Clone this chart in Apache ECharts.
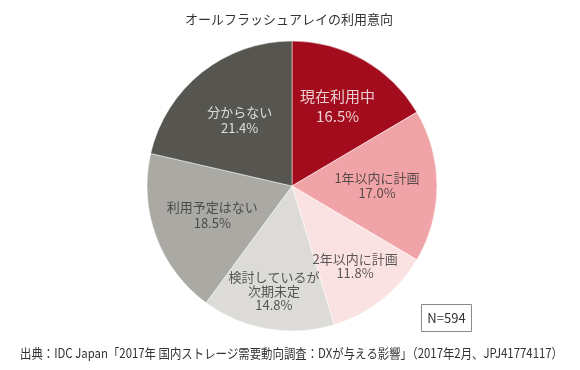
<!DOCTYPE html>
<html><head><meta charset="utf-8">
<script src="https://cdn.jsdelivr.net/npm/echarts@6/dist/echarts.min.js"></script>
<style>html,body{margin:0;padding:0;background:#fff}#c{width:580px;height:370px}</style>
</head><body><div id="c"></div>
<script>
const categories = ['現在利用中', '1年以内に計画', '2年以内に計画', '検討しているが\n次期未定', '利用予定はない', '分からない'];
const values = [16.5, 17.0, 11.8, 14.8, 18.5, 21.4];
const sliceColors = ['#a20c1d', '#f1a4a7', '#fbe2e2', '#dcdbd7', '#aba9a3', '#56554f'];
const labelColors = ['#ffffff', '#333333', '#333333', '#333333', '#333333', '#ffffff'];
// label placement (distance from pie centre, px) and text size per slice
const labelRadius = [92, 85, 102, 107, 85, 84];
const labelSize = [15, 13, 13, 13, 13, 13];
const labelLineHeight = [20, 15, 14, 14, 16, 16];
const titleText = 'オールフラッシュアレイの利用意向';
const sampleNote = 'N=594';
const sourceText = '出典：IDC Japan「2017年 国内ストレージ需要動向調査：DXが与える影響」（2017年2月、JPJ41774117）';

const FONT = '"Noto Sans CJK JP", "Noto Sans", sans-serif';
const CX = 292, CY = 186, R = 145;

// fit text lines to the widths used in the reference
const ctx = document.createElement('canvas').getContext('2d');
ctx.font = '13px ' + FONT;
const sourceScale = Math.min(1, 543 / ctx.measureText(sourceText).width);
const titleScale = Math.min(1, 212 / ctx.measureText(titleText).width);

// label anchors: middle of each slice on a polar angle axis (0..100 %)
const total = values.reduce((a, b) => a + b, 0);
let cum = 0;
const labelPoints = values.map((v, i) => {
  const mid = (cum + v / 2) / total * 100;
  cum += v;
  return {
    name: categories[i], value: [labelRadius[i], mid], pct: v,
    label: {color: labelColors[i], fontSize: labelSize[i], lineHeight: labelLineHeight[i]}
  };
});

const chart = echarts.init(document.getElementById('c'), null, {renderer: 'canvas'});
chart.setOption({
  animation: false,
  backgroundColor: '#fff',
  textStyle: {fontFamily: FONT},
  polar: {center: [CX, CY], radius: R},
  angleAxis: {type: 'value', min: 0, max: 100, startAngle: 90, clockwise: true, show: false},
  radiusAxis: {type: 'value', min: 0, max: R, show: false},
  series: [
    {
      type: 'pie', center: [CX, CY], radius: R, startAngle: 90, clockwise: true,
      silent: true, label: {show: false}, labelLine: {show: false},
      itemStyle: {borderColor: '#ffffff', borderWidth: 0.5},
      data: categories.map((n, i) => ({name: n, value: values[i], itemStyle: {color: sliceColors[i]}}))
    },
    {
      type: 'scatter', coordinateSystem: 'polar', silent: true, z: 5,
      symbol: 'circle', symbolSize: 1, itemStyle: {color: 'rgba(0,0,0,0)'},
      label: {
        show: true, position: 'inside', fontFamily: FONT,
        align: 'center', verticalAlign: 'middle',
        formatter: p => p.name + '\n' + p.data.pct.toFixed(1) + '%'
      },
      data: labelPoints
    }
  ],
  graphic: [
    {type: 'text', x: 289, y: 19, scaleX: titleScale,
     style: {text: titleText, fontSize: 13, fill: '#333', fontFamily: FONT, align: 'center', verticalAlign: 'middle'}},
    {type: 'rect', shape: {x: 421.5, y: 304.5, width: 50, height: 27},
     style: {fill: '#fff', stroke: '#8a8a8a', lineWidth: 1}},
    {type: 'text', x: 446.5, y: 318, style: {text: sampleNote, fontSize: 13, fill: '#333', fontFamily: FONT, align: 'center', verticalAlign: 'middle'}},
    {type: 'text', x: 20, y: 353, scaleX: sourceScale,
     style: {text: sourceText, fontSize: 13, fill: '#333', fontFamily: FONT, align: 'left', verticalAlign: 'middle'}}
  ]
});
</script></body></html>
